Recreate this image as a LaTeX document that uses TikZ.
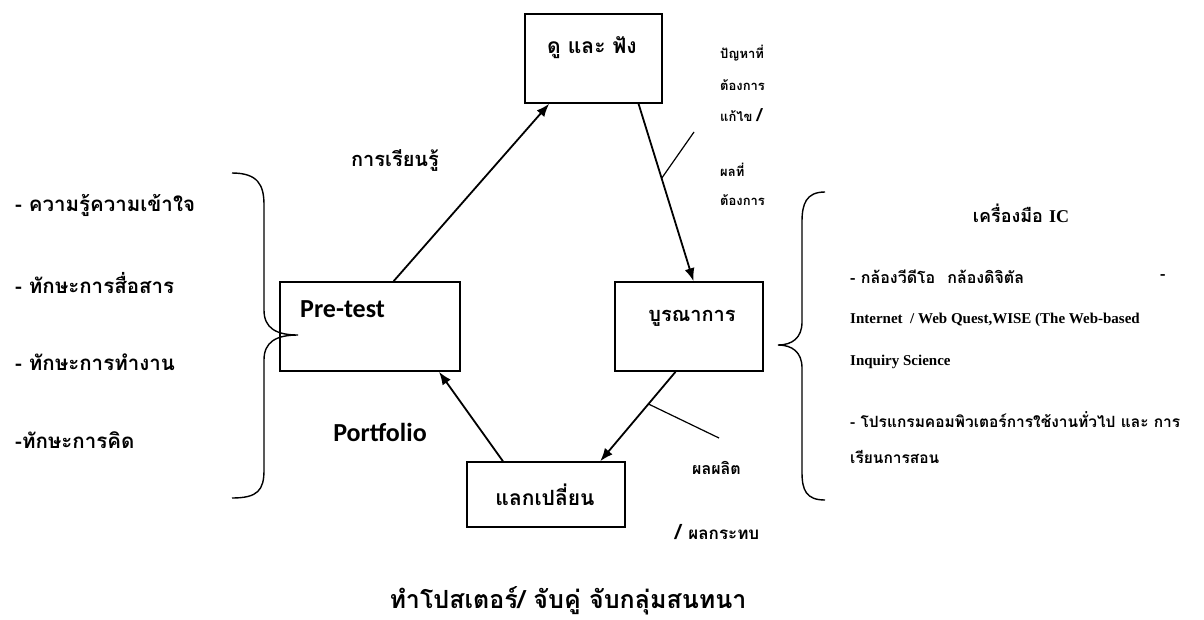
\documentclass[tikz,border=0pt]{standalone}
\usepackage{fontspec}
\setmainfont{Liberation Serif}
\newfontfamily\thaifnt[Script=Thai]{Loma}
\newfontfamily\carlitofnt{Carlito}
\usetikzlibrary{arrows.meta,calc}
\begin{document}
\begin{tikzpicture}[x=1pt,y=-1pt,
  box/.style={draw,line width=1.6pt,inner sep=0pt},
  conn/.style={line width=1.8pt,-{Latex[length=13pt,width=10pt]}},
  tick/.style={line width=1.2pt},
  brace/.style={line width=1.4pt},
  th/.style={font=\thaifnt\bfseries\fontsize{#1}{#1}\selectfont,inner sep=0pt},
  th/.default=20,
  lat/.style={font=\bfseries\fontsize{#1}{#1}\selectfont,inner sep=0pt},
  cb/.style={font=\carlitofnt\bfseries\fontsize{26}{26}\selectfont,inner sep=0pt}]
\useasboundingbox (0,0) rectangle (1204,619);
% boxes
\node[box,minimum width=137pt,minimum height=89pt] (top) at (593.5,58.5) {};
\node[th=21] (toptxt) at (592,48) {ดู และ ฟัง};
\node[box,minimum width=180pt,minimum height=89pt] (pre) at (370,326.5) {};
\node[cb,anchor=west] (pretxt) at (300,309) {Pre-test};
\node[box,minimum width=148pt,minimum height=89pt] (bur) at (689,326.5) {};
\node[th=20] (burtxt) at (692,318) {บูรณาการ};
\node[box,minimum width=158pt,minimum height=65pt] (lak) at (546,494.5) {};
\node[th=21] (laktxt) at (545,495) {แลกเปลี่ยน};
% connectors
\draw[conn] ($(pre.north west)!0.63!(pre.north east)$) -- ($(top.south west)!0.18!(top.south east)$);
\draw[conn] ($(top.south west)!0.825!(top.south east)$) coordinate (a1) -- ($(bur.north west)!0.53!(bur.north east)$) coordinate (a2);
\draw[conn] ($(bur.south west)!0.41!(bur.south east)$) coordinate (b1) -- ($(lak.north west)!0.84!(lak.north east)$) coordinate (b2);
\draw[conn] ($(lak.north west)!0.23!(lak.north east)$) -- ($(pre.south west)!0.88!(pre.south east)$);
% ticks
\coordinate (t1) at (694,132);
\coordinate (t2) at (719,438);
\draw[tick] ($(a1)!0.42!(a2)$) -- (t1);
\draw[tick] ($(b1)!0.36!(b2)$) -- (t2);
% labels on cycle
\node[th=20] (learn) at (395,160) {การเรียนรู้};
\node[cb] (port) at (380,432) {Portfolio};
\node[th=13,anchor=west] (p1) at (720,53) {ปัญหาที่};
\node[th=13,anchor=west] (p2) at (720,85) {ต้องการ};
\node[th=13,anchor=west] (p3) at (720,115) {แก้ไข \fontsize{18}{18}\selectfont/};
\node[th=13,anchor=west] (p4) at (720,170) {ผลที่};
\node[th=13,anchor=west] (p5) at (720,200) {ต้องการ};
\node[th=16,anchor=west] (o1) at (692,468) {ผลผลิต};
\node[th=17,anchor=west] (o2) at (675,532) {\fontsize{21}{21}\selectfont/ \fontsize{17}{17}\selectfont ผลกระทบ};
\node[th=25] (bottom) at (568,601) {ทำโปสเตอร์/ จับคู่ จับกลุ่มสนทนา};
% left list
\node[th=20.5,anchor=west] (l1) at (15,205) {- ความรู้ความเข้าใจ};
\node[th=20.5,anchor=west] (l2) at (15,283) {- ทักษะการสื่อสาร};
\node[th=20.5,anchor=west] (l3) at (15,362) {- ทักษะการทำงาน};
\node[th=20.5,anchor=west] (l4) at (15,440) {-ทักษะการคิด};
% left brace
\draw[brace] (232,173) .. controls (258,173) and (264,185) .. (264,205) -- (264,310)
  .. controls (264,328) and (276,335) .. (298,335)
  .. controls (276,335) and (264,342) .. (264,360) -- (264,470)
  .. controls (264,490) and (258,498) .. (232,498);
% right brace
\draw[brace] (825,192) .. controls (806,192) and (802,204) .. (802,222) -- (802,322)
  .. controls (802,338) and (792,345) .. (778,345)
  .. controls (792,345) and (802,352) .. (802,368) -- (802,472)
  .. controls (802,490) and (806,500) .. (825,500);
% right list
\node[th=18] (ic) at (1021,213) {เครื่องมือ \textrm{\bfseries IC}};
\node[th=16,anchor=west] (r1) at (850,277) {- กล้องวีดีโอ\hspace{12pt}กล้องดิจิตัล};
\node[th=16,anchor=west] (r1b) at (1160,277) {-};
\node[lat=15,anchor=west] (r2) at (850,320) {Internet~ / Web Quest,WISE (The Web-based};
\node[lat=15,anchor=west] (r3) at (850,362) {Inquiry Science};
\node[th=15.5,anchor=west] (r4) at (850,420) {- โปรแกรมคอมพิวเตอร์การใช้งานทั่วไป และ การ};
\node[th=15.5,anchor=west] (r5) at (850,457) {เรียนการสอน};
\end{tikzpicture}
\end{document}
